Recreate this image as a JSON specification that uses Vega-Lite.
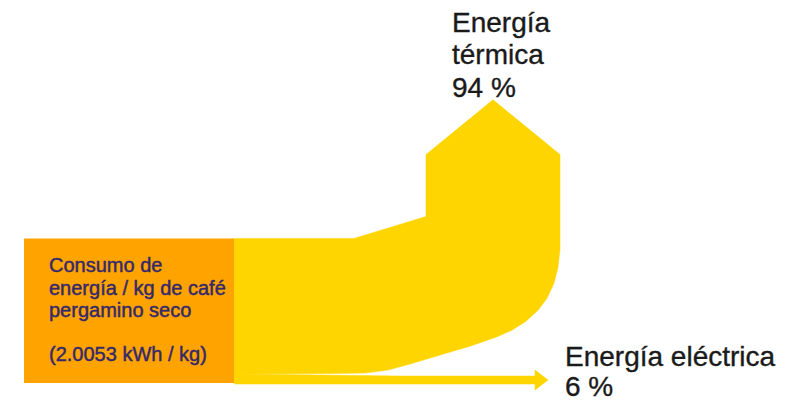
{
  "$schema": "https://vega.github.io/schema/vega-lite/v6.json",
  "width": 785,
  "height": 402,
  "autosize": {"type": "fit", "contains": "padding"},
  "padding": 0,
  "background": "white",
  "config": {"view": {"stroke": null}},
  "datasets": {
    "origen": [{"x0": 24, "x1": 234, "y0": 239, "y1": 384}],
    "flujos": [
      {"flujo": "termica", "orden": 1, "x": 234, "y": 239},
      {"flujo": "termica", "orden": 2, "x": 354, "y": 239},
      {"flujo": "termica", "orden": 3, "x": 426, "y": 217},
      {"flujo": "termica", "orden": 4, "x": 426, "y": 155},
      {"flujo": "termica", "orden": 5, "x": 493, "y": 100},
      {"flujo": "termica", "orden": 6, "x": 560, "y": 155},
      {"flujo": "termica", "orden": 7, "x": 560, "y": 250},
      {"flujo": "termica", "orden": 8, "x": 558, "y": 268},
      {"flujo": "termica", "orden": 9, "x": 554, "y": 284},
      {"flujo": "termica", "orden": 10, "x": 547, "y": 299},
      {"flujo": "termica", "orden": 11, "x": 538, "y": 311},
      {"flujo": "termica", "orden": 12, "x": 526, "y": 322},
      {"flujo": "termica", "orden": 13, "x": 512, "y": 331},
      {"flujo": "termica", "orden": 14, "x": 496, "y": 338},
      {"flujo": "termica", "orden": 15, "x": 470, "y": 347},
      {"flujo": "termica", "orden": 16, "x": 440, "y": 356},
      {"flujo": "termica", "orden": 17, "x": 410, "y": 365},
      {"flujo": "termica", "orden": 18, "x": 388, "y": 371},
      {"flujo": "termica", "orden": 19, "x": 365, "y": 374},
      {"flujo": "termica", "orden": 20, "x": 330, "y": 374.5},
      {"flujo": "termica", "orden": 21, "x": 234, "y": 375},
      {"flujo": "electrica", "orden": 1, "x": 234, "y": 375},
      {"flujo": "electrica", "orden": 2, "x": 320, "y": 376},
      {"flujo": "electrica", "orden": 3, "x": 400, "y": 377},
      {"flujo": "electrica", "orden": 4, "x": 535, "y": 377},
      {"flujo": "electrica", "orden": 5, "x": 535, "y": 371},
      {"flujo": "electrica", "orden": 6, "x": 548, "y": 381},
      {"flujo": "electrica", "orden": 7, "x": 535, "y": 391},
      {"flujo": "electrica", "orden": 8, "x": 535, "y": 385},
      {"flujo": "electrica", "orden": 9, "x": 234, "y": 385}
    ],
    "caja": [
      {"x": 49, "y": 273, "texto": "Consumo de"},
      {"x": 49, "y": 296, "texto": "energía / kg de café"},
      {"x": 49, "y": 318, "texto": "pergamino seco"},
      {"x": 49, "y": 362, "texto": "(2.0053 kWh / kg)"}
    ],
    "salidas": [
      {"x": 452, "y": 32, "texto": "Energía"},
      {"x": 452, "y": 64, "texto": "térmica"},
      {"x": 452, "y": 97, "texto": "94 %"},
      {"x": 565, "y": 367, "texto": "Energía eléctrica"},
      {"x": 565, "y": 397, "texto": "6 %"}
    ]
  },
  "resolve": {"scale": {"x": "shared", "y": "shared"}},
  "layer": [
    {
      "data": {"name": "flujos"},
      "mark": {"type": "line", "fill": "#FFD500", "stroke": "#FFD500", "strokeWidth": 0.5, "interpolate": "linear"},
      "encoding": {
        "x": {"field": "x", "type": "quantitative", "scale": {"domain": [0, 785], "nice": false, "zero": false}, "axis": null},
        "y": {"field": "y", "type": "quantitative", "scale": {"domain": [0, 402], "nice": false, "zero": false, "reverse": true}, "axis": null},
        "detail": {"field": "flujo"},
        "order": {"field": "orden", "type": "quantitative"}
      }
    },
    {
      "data": {"name": "origen"},
      "mark": {"type": "rect", "color": "#FFA300"},
      "encoding": {
        "x": {"field": "x0", "type": "quantitative"},
        "x2": {"field": "x1"},
        "y": {"field": "y0", "type": "quantitative"},
        "y2": {"field": "y1"}
      }
    },
    {
      "data": {"name": "caja"},
      "mark": {"type": "text", "align": "left", "baseline": "alphabetic", "font": "Liberation Sans", "fontSize": 20, "fill": "#35296A", "stroke": "#35296A", "strokeWidth": 0.45},
      "encoding": {
        "x": {"field": "x", "type": "quantitative"},
        "y": {"field": "y", "type": "quantitative"},
        "text": {"field": "texto"}
      }
    },
    {
      "data": {"name": "salidas"},
      "mark": {"type": "text", "align": "left", "baseline": "alphabetic", "font": "Liberation Sans", "fontSize": 28, "fill": "#1A1A1A", "stroke": "#1A1A1A", "strokeWidth": 0.35},
      "encoding": {
        "x": {"field": "x", "type": "quantitative"},
        "y": {"field": "y", "type": "quantitative"},
        "text": {"field": "texto"}
      }
    }
  ]
}
